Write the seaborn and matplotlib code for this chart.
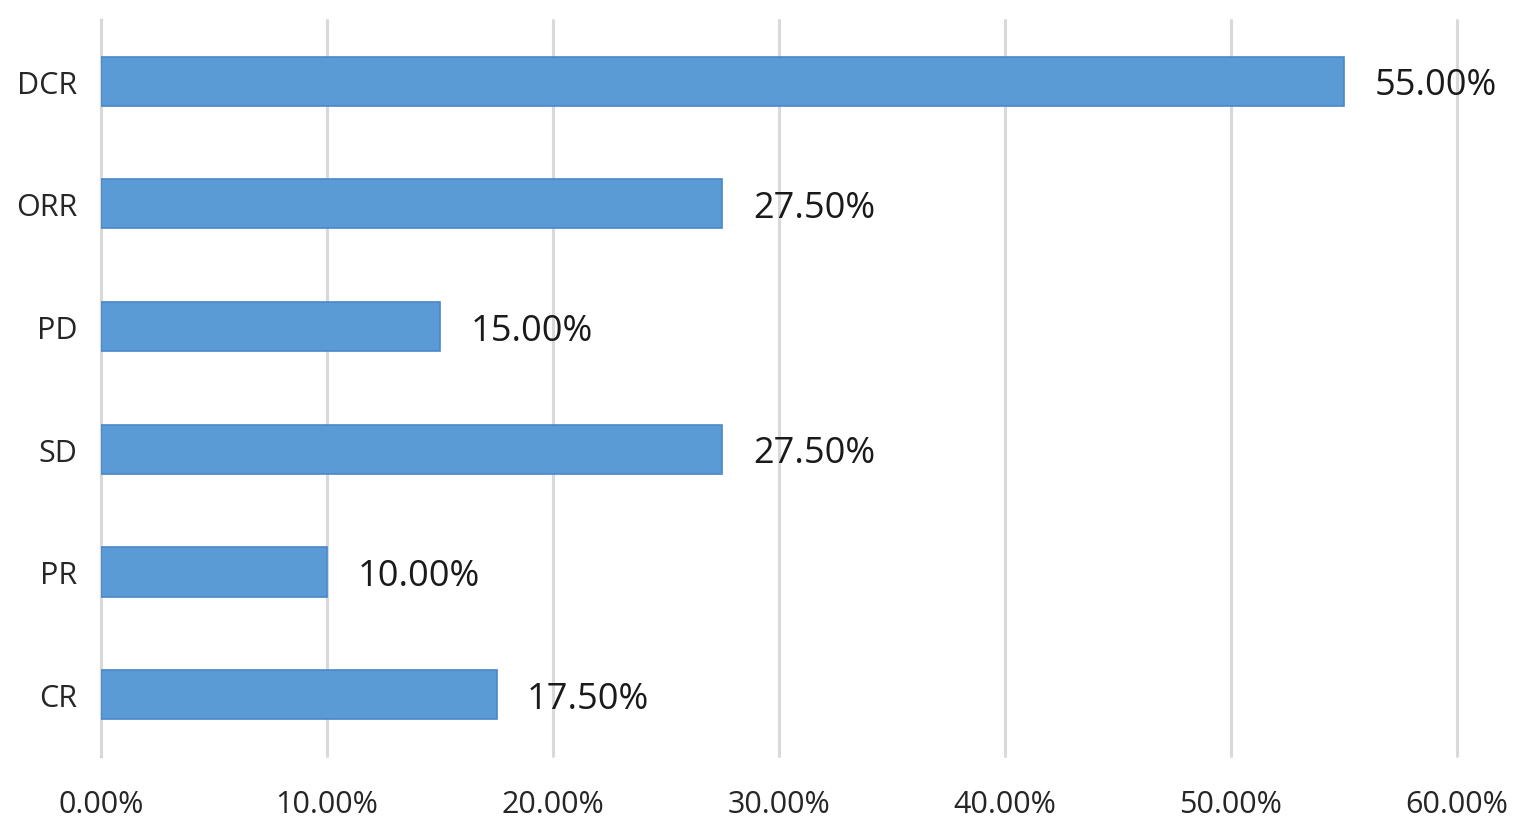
import matplotlib
matplotlib.use("Agg")
import matplotlib.pyplot as plt
import seaborn as sns
import pandas as pd
from matplotlib.ticker import PercentFormatter

categories = ["DCR", "ORR", "PD", "SD", "PR", "CR"]
values = [55.0, 27.5, 15.0, 27.5, 10.0, 17.5]
xticks = [0, 10, 20, 30, 40, 50, 60]

sns.set_style("white")
plt.rcParams["font.family"] = ["Open Sans", "DejaVu Sans"]

df = pd.DataFrame({"category": categories, "value": values})

fig = plt.figure(figsize=(15.24, 8.37), dpi=100)
ax = fig.add_axes([0.0663, 0.0956, 0.8897, 0.8794])

sns.barplot(data=df, x="value", y="category", orient="h", color="#5B9BD5",
            saturation=1, width=0.4, edgecolor="#4A87C9", linewidth=1.2, ax=ax)

ax.set_xlim(0, 60)
ax.set_ylim(5.5, -0.5)
ax.set_xticks(xticks)
ax.xaxis.set_major_formatter(PercentFormatter(decimals=2))
ax.set_xlabel("")
ax.set_ylabel("")
ax.grid(axis="x", color="#D9D9D9", linewidth=2.2)
for gl in ax.get_xgridlines():
    gl.set_clip_on(False)
ax.set_axisbelow(True)
for s in ["top", "right", "bottom"]:
    ax.spines[s].set_visible(False)
ax.spines["left"].set_color("#BFBFBF")
ax.spines["left"].set_linewidth(2.2)
ax.spines["left"].set_zorder(0.5)

ax.tick_params(axis="x", length=0, pad=24, labelsize=22, labelcolor="#262626")
ax.tick_params(axis="y", length=0, pad=17, labelsize=22, labelcolor="#262626")

labels = ax.bar_label(ax.containers[0], labels=[f"{v:.2f}%" for v in values],
                      padding=22, fontsize=26, color="#1a1a1a")
for t in labels:
    t.xyann = (22, -3)

fig.savefig("out.png", dpi=100)
